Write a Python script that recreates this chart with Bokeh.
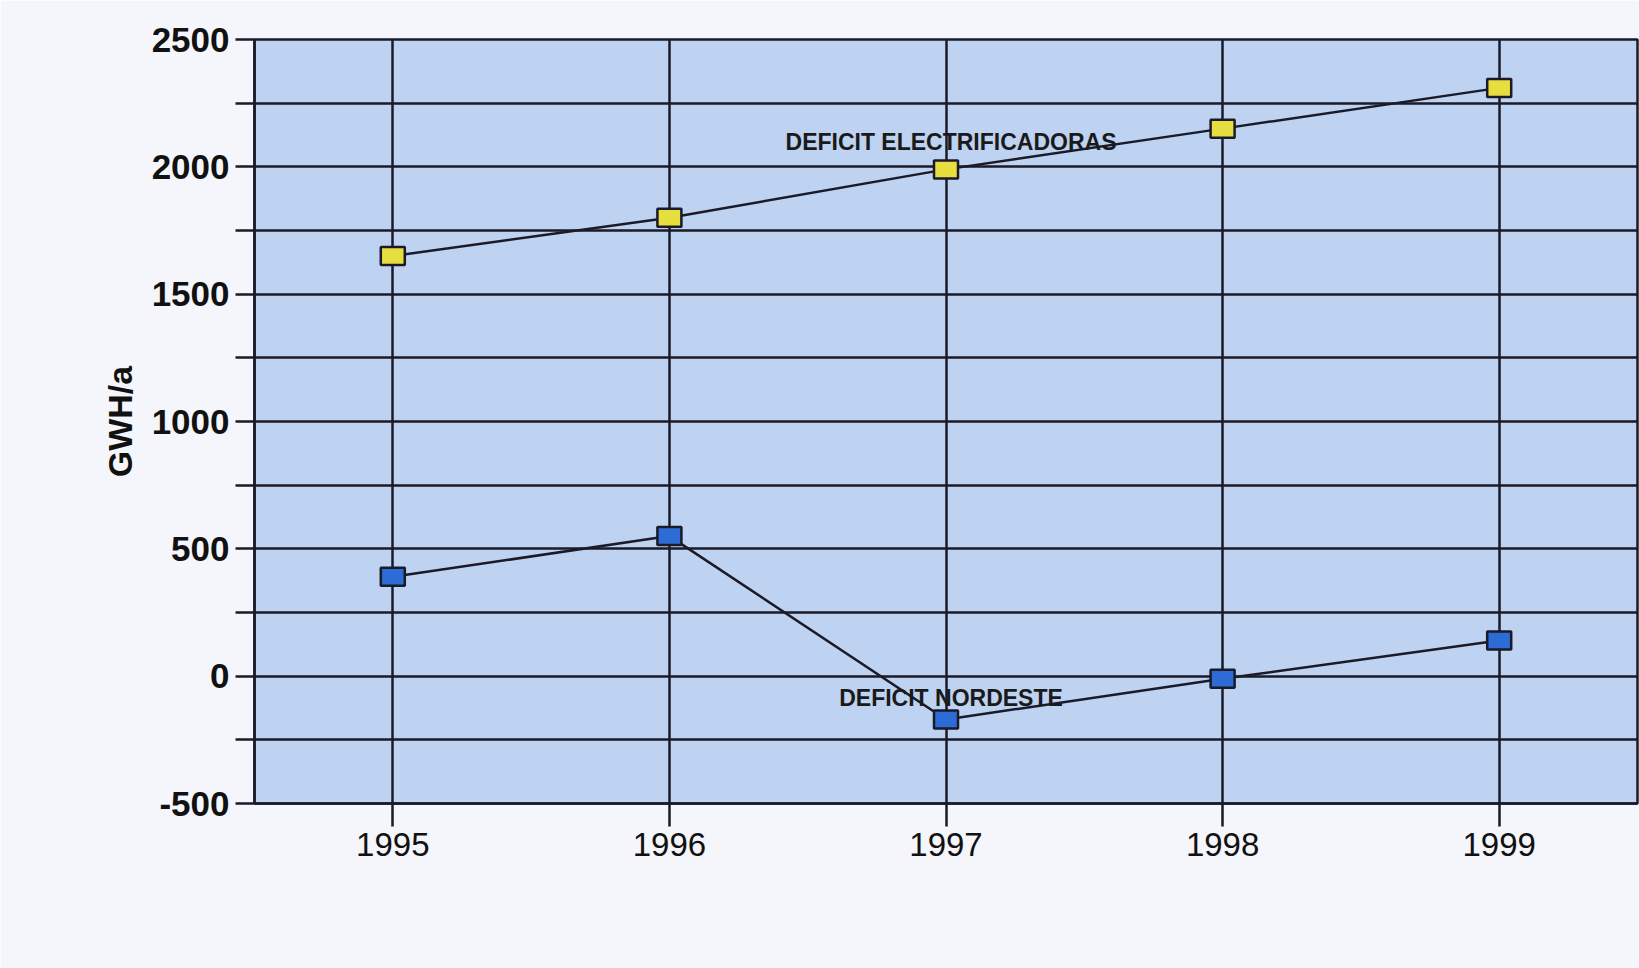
from bokeh.plotting import figure
from bokeh.models import FactorRange, Range1d, FixedTicker, ColumnDataSource
from bokeh.core.properties import value
from bokeh.embed import file_html
from bokeh.resources import INLINE

# Annual deficits, GWh per year
years = ["1995", "1996", "1997", "1998", "1999"]
deficit_electrificadoras = [1650, 1800, 1990, 2150, 2310]
deficit_nordeste = [390, 550, -170, -10, 140]

y_ticks = [-500, -250, 0, 250, 500, 750, 1000, 1250, 1500, 1750, 2000, 2250, 2500]
y_labelled = [-500, 0, 500, 1000, 1500, 2000, 2500]

series_labels = ["DEFICIT ELECTRIFICADORAS", "DEFICIT NORDESTE"]
label_years = ["1997", "1997"]
label_values = [2045, -137]

INK = "#1a1a28"
FONT = "Liberation Sans"

p = figure(
    x_range=FactorRange(factors=years, range_padding=0),
    y_range=Range1d(-500, 2500),
    width=1639, height=968,
    output_backend="svg", toolbar_location=None,
    min_border_left=254, min_border_right=2,
    min_border_top=39, min_border_bottom=165,
)

p.background_fill_color = "#bed2f1"
p.border_fill_color = "#f5f6fb"
p.outline_line_color = INK
p.outline_line_width = 2.5

# grid
p.xgrid.grid_line_color = INK
p.xgrid.grid_line_width = 2.5
p.ygrid.grid_line_color = INK
p.ygrid.grid_line_width = 2.5
p.ygrid.ticker = FixedTicker(ticks=y_ticks)

# y axis
p.yaxis.ticker = FixedTicker(ticks=y_ticks)
p.yaxis.major_label_overrides = {t: ("" if t not in y_labelled else str(t)) for t in y_ticks}
p.yaxis.major_tick_out = 19
p.yaxis.major_tick_in = 0
p.yaxis.minor_tick_out = 0
p.yaxis.minor_tick_in = 0
p.yaxis.major_tick_line_color = INK
p.yaxis.major_tick_line_width = 2.5
p.yaxis.axis_line_color = INK
p.yaxis.axis_line_width = 2.5
p.yaxis.major_label_text_font = FONT
p.yaxis.major_label_text_font_size = "35px"
p.yaxis.major_label_text_font_style = "bold"
p.yaxis.major_label_text_color = "#111111"
p.yaxis.major_label_standoff = 6
p.yaxis.axis_label = "GWH/a"
p.yaxis.axis_label_text_font = FONT
p.yaxis.axis_label_text_font_size = "34px"
p.yaxis.axis_label_text_font_style = "bold"
p.yaxis.axis_label_text_color = "#111111"
p.yaxis.axis_label_standoff = 10

# x axis
p.xaxis.major_tick_out = 23
p.xaxis.major_tick_in = 0
p.xaxis.major_tick_line_color = INK
p.xaxis.major_tick_line_width = 2.5
p.xaxis.axis_line_color = INK
p.xaxis.axis_line_width = 2.5
p.xaxis.major_label_text_font = FONT
p.xaxis.major_label_text_font_size = "33px"
p.xaxis.major_label_text_color = "#111111"
p.xaxis.major_label_standoff = 6

src_e = ColumnDataSource(dict(x=years, y=deficit_electrificadoras))
src_n = ColumnDataSource(dict(x=years, y=deficit_nordeste))

for src, fill in ((src_e, "#e7df3f"), (src_n, "#2d6bd6")):
    p.line("x", "y", source=src, line_color=INK, line_width=2.5)
    p.rect("x", "y", width=24, height=18, width_units="screen", height_units="screen",
           source=src, fill_color=fill, line_color=INK, line_width=2.5)

lbl = ColumnDataSource(dict(x=label_years, y=label_values, text=series_labels))
p.text("x", "y", text="text", source=lbl, text_align="center", text_baseline="bottom",
       x_offset=5, text_font=value(FONT), text_font_size="23px", text_font_style="bold",
       text_color="#1a1a1a")

open("out.html", "w").write(file_html(p, INLINE))
